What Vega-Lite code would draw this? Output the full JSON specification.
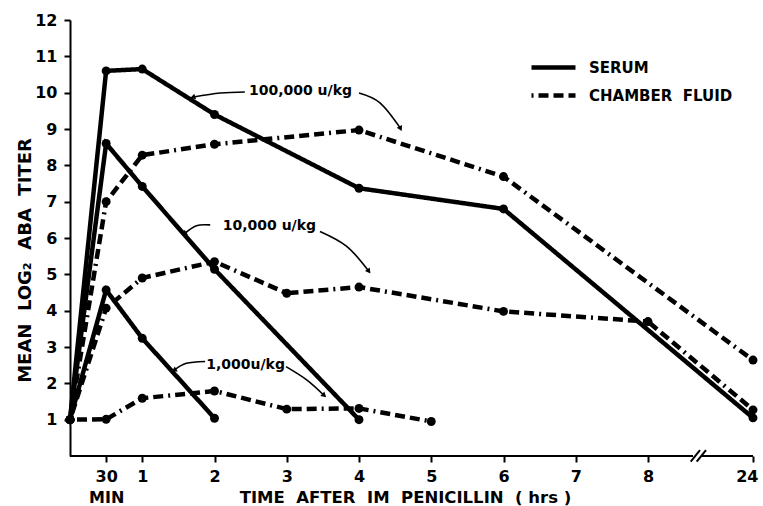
{
  "$schema": "https://vega.github.io/schema/vega-lite/v6.json",
  "width": 683,
  "height": 436,
  "autosize": {"type": "none"},
  "padding": {"left": 70, "top": 20, "right": 10, "bottom": 50},
  "background": "white",
  "config": {
    "view": {"stroke": null},
    "font": "DejaVu Sans",
    "text": {"font": "DejaVu Sans"},
    "axis": {"labelOverlap": false}
  },
  "datasets": {
    "titer": [
      {"dose": "100,000", "fluid": "SERUM", "t": 0, "v": 1},
      {"dose": "100,000", "fluid": "SERUM", "t": 0.5, "v": 10.6},
      {"dose": "100,000", "fluid": "SERUM", "t": 1, "v": 10.65},
      {"dose": "100,000", "fluid": "SERUM", "t": 2, "v": 9.4},
      {"dose": "100,000", "fluid": "SERUM", "t": 4, "v": 7.37},
      {"dose": "100,000", "fluid": "SERUM", "t": 6, "v": 6.8},
      {"dose": "100,000", "fluid": "SERUM", "t": 24, "v": 1.05},
      {"dose": "100,000", "fluid": "CHAMBER FLUID", "t": 0, "v": 1},
      {"dose": "100,000", "fluid": "CHAMBER FLUID", "t": 0.5, "v": 7.0},
      {"dose": "100,000", "fluid": "CHAMBER FLUID", "t": 1, "v": 8.28},
      {"dose": "100,000", "fluid": "CHAMBER FLUID", "t": 2, "v": 8.58},
      {"dose": "100,000", "fluid": "CHAMBER FLUID", "t": 4, "v": 8.97},
      {"dose": "100,000", "fluid": "CHAMBER FLUID", "t": 6, "v": 7.69},
      {"dose": "100,000", "fluid": "CHAMBER FLUID", "t": 24, "v": 2.64},
      {"dose": "10,000", "fluid": "SERUM", "t": 0, "v": 1},
      {"dose": "10,000", "fluid": "SERUM", "t": 0.5, "v": 8.6},
      {"dose": "10,000", "fluid": "SERUM", "t": 1, "v": 7.42},
      {"dose": "10,000", "fluid": "SERUM", "t": 2, "v": 5.14},
      {"dose": "10,000", "fluid": "SERUM", "t": 4, "v": 1.0},
      {"dose": "10,000", "fluid": "CHAMBER FLUID", "t": 0, "v": 1},
      {"dose": "10,000", "fluid": "CHAMBER FLUID", "t": 0.5, "v": 4.07},
      {"dose": "10,000", "fluid": "CHAMBER FLUID", "t": 1, "v": 4.9},
      {"dose": "10,000", "fluid": "CHAMBER FLUID", "t": 2, "v": 5.35},
      {"dose": "10,000", "fluid": "CHAMBER FLUID", "t": 3, "v": 4.48},
      {"dose": "10,000", "fluid": "CHAMBER FLUID", "t": 4, "v": 4.65},
      {"dose": "10,000", "fluid": "CHAMBER FLUID", "t": 6, "v": 3.98},
      {"dose": "10,000", "fluid": "CHAMBER FLUID", "t": 8, "v": 3.7},
      {"dose": "10,000", "fluid": "CHAMBER FLUID", "t": 24, "v": 1.27},
      {"dose": "1,000", "fluid": "SERUM", "t": 0, "v": 1},
      {"dose": "1,000", "fluid": "SERUM", "t": 0.5, "v": 4.57},
      {"dose": "1,000", "fluid": "SERUM", "t": 1, "v": 3.24},
      {"dose": "1,000", "fluid": "SERUM", "t": 2, "v": 1.04},
      {"dose": "1,000", "fluid": "CHAMBER FLUID", "t": 0, "v": 1},
      {"dose": "1,000", "fluid": "CHAMBER FLUID", "t": 0.5, "v": 1.01},
      {"dose": "1,000", "fluid": "CHAMBER FLUID", "t": 1, "v": 1.59},
      {"dose": "1,000", "fluid": "CHAMBER FLUID", "t": 2, "v": 1.79},
      {"dose": "1,000", "fluid": "CHAMBER FLUID", "t": 3, "v": 1.29},
      {"dose": "1,000", "fluid": "CHAMBER FLUID", "t": 4, "v": 1.31},
      {"dose": "1,000", "fluid": "CHAMBER FLUID", "t": 5, "v": 0.95}
    ],
    "baseline": [
      {"t": 0, "t2": 14.86},
      {"t": 16.18, "t2": 24}
    ],
    "slashes": [
      {"t": 14.51, "t2": 15.92, "v": -0.157, "v2": 0.165},
      {"t": 15.42, "t2": 16.84, "v": -0.157, "v2": 0.165}
    ],
    "labels": [
      {"t": 3.19, "v": 10.04, "text": "100,000 u/kg"},
      {"t": 2.76, "v": 6.32, "text": "10,000 u/kg"},
      {"t": 2.43, "v": 2.51, "text": "1,000u/kg"}
    ],
    "arrows": [
      {"a": "L100", "i": 0, "t": 2.42, "v": 10.02},
      {"a": "L100", "i": 1, "t": 2.08, "v": 9.99},
      {"a": "L100", "i": 2, "t": 1.71, "v": 9.88},
      {"a": "R100", "i": 0, "t": 4.0, "v": 9.99},
      {"a": "R100", "i": 1, "t": 4.29, "v": 9.72},
      {"a": "R100", "i": 2, "t": 4.57, "v": 9.03},
      {"a": "L10", "i": 0, "t": 1.94, "v": 6.36},
      {"a": "L10", "i": 1, "t": 1.75, "v": 6.34},
      {"a": "L10", "i": 2, "t": 1.59, "v": 6.13},
      {"a": "R10", "i": 0, "t": 3.46, "v": 6.18},
      {"a": "R10", "i": 1, "t": 3.83, "v": 5.77},
      {"a": "R10", "i": 2, "t": 4.13, "v": 5.1},
      {"a": "L1", "i": 0, "t": 1.87, "v": 2.6},
      {"a": "L1", "i": 1, "t": 1.61, "v": 2.55},
      {"a": "L1", "i": 2, "t": 1.45, "v": 2.37},
      {"a": "R1", "i": 0, "t": 2.99, "v": 2.46},
      {"a": "R1", "i": 1, "t": 3.28, "v": 2.09},
      {"a": "R1", "i": 2, "t": 3.51, "v": 1.68}
    ]
  },
  "layer": [
    {
      "data": {"name": "titer"},
      "mark": {"type": "line", "color": "black", "strokeWidth": 4.5, "strokeCap": "butt"},
      "encoding": {
        "x": {
          "field": "t", "type": "quantitative",
          "scale": {"domain": [0, 8, 24], "range": [0, 578, 683], "nice": false, "zero": false},
          "axis": {
            "values": [0.5, 1, 2, 3, 4, 5, 6, 7, 8, 24],
            "tickCount": 30,
            "format": "d",
            "labelExpr": "datum.value == 0.5 ? ['30', 'MIN'] : datum.label",
            "domain": false, "grid": false,
            "ticks": true, "tickSize": 6, "tickWidth": 2, "tickColor": "black",
            "labelFont": "DejaVu Sans", "labelFontSize": 16, "labelFontWeight": "bold", "labelColor": "black",
            "labelPadding": 6, "labelLineHeight": 21, "labelFlush": 5, "labelFlushOffset": 5, "labelOverlap": false,
            "title": "TIME\u00a0\u00a0AFTER\u00a0\u00a0IM\u00a0\u00a0PENICILLIN\u00a0\u00a0(\u00a0hrs\u00a0)",
            "titleFont": "DejaVu Sans", "titleFontSize": 16.5, "titleFontWeight": "bold", "titleColor": "black",
            "titleX": 335, "titleY": 46, "titleBaseline": "alphabetic", "titleAlign": "center"
          }
        },
        "y": {
          "field": "v", "type": "quantitative",
          "scale": {"domain": [0, 12], "nice": false, "zero": true},
          "axis": {
            "values": [1, 2, 3, 4, 5, 6, 7, 8, 9, 10, 11, 12],
            "tickCount": 30,
            "format": "d",
            "domain": true, "domainColor": "black", "domainWidth": 2, "grid": false,
            "ticks": true, "tickSize": 6, "tickWidth": 2, "tickColor": "black",
            "labelFont": "DejaVu Sans", "labelFontSize": 16, "labelFontWeight": "bold", "labelColor": "black",
            "labelPadding": 7, "labelOverlap": false, "labelFlush": false,
            "title": "MEAN\u00a0\u00a0LOG₂\u00a0\u00a0ABA\u00a0\u00a0TITER",
            "titleFont": "DejaVu Sans", "titleFontSize": 18, "titleFontWeight": "bold", "titleColor": "black",
            "titleX": -45, "titleY": 240, "titleAngle": -90, "titleAlign": "center", "titleBaseline": "middle"
          }
        },
        "detail": {"field": "dose", "type": "nominal"},
        "strokeDash": {
          "field": "fluid", "type": "nominal",
          "scale": {"domain": ["SERUM", "CHAMBER FLUID"], "range": [[1, 0], [2, 5, 10, 5, 10, 5, 10, 5]]},
          "legend": {
            "title": null, "orient": "none", "legendX": 470, "legendY": 34,
            "symbolType": "M-2,0H2", "symbolSize": 484, "symbolStrokeWidth": 4.5, "symbolStrokeColor": "black",
            "labelFont": "DejaVu Sans", "labelFontSize": 15, "labelFontWeight": "bold", "labelColor": "black",
            "labelOffset": 22, "rowPadding": 5,
            "labelExpr": "datum.label == 'CHAMBER FLUID' ? 'CHAMBER\u00a0\u00a0FLUID' : datum.label"
          }
        }
      }
    },
    {
      "data": {"name": "titer"},
      "mark": {"type": "point", "shape": "circle", "filled": true, "color": "black", "size": 80, "opacity": 1},
      "encoding": {
        "x": {"field": "t", "type": "quantitative"},
        "y": {"field": "v", "type": "quantitative"}
      }
    },
    {
      "data": {"name": "baseline"},
      "mark": {"type": "rule", "color": "black", "strokeWidth": 2},
      "encoding": {
        "x": {"field": "t", "type": "quantitative"},
        "x2": {"field": "t2"},
        "y": {"datum": 0}
      }
    },
    {
      "data": {"name": "slashes"},
      "mark": {"type": "rule", "color": "black", "strokeWidth": 2},
      "encoding": {
        "x": {"field": "t", "type": "quantitative"},
        "x2": {"field": "t2"},
        "y": {"field": "v", "type": "quantitative"},
        "y2": {"field": "v2"}
      }
    },
    {
      "data": {"name": "labels"},
      "mark": {"type": "text", "font": "DejaVu Sans", "fontSize": 14, "fontWeight": "bold", "color": "black", "align": "center", "baseline": "middle"},
      "encoding": {
        "x": {"field": "t", "type": "quantitative"},
        "y": {"field": "v", "type": "quantitative"},
        "text": {"field": "text"}
      }
    },
    {
      "data": {"name": "arrows"},
      "mark": {"type": "line", "color": "black", "strokeWidth": 1.6, "interpolate": "natural"},
      "encoding": {
        "x": {"field": "t", "type": "quantitative"},
        "y": {"field": "v", "type": "quantitative"},
        "detail": {"field": "a", "type": "nominal"},
        "order": {"field": "i", "type": "quantitative"}
      }
    },
    {
      "data": {"name": "arrows"},
      "transform": [{"filter": "datum.a == 'L100' && datum.i == 2"}],
      "mark": {"type": "point", "shape": "triangle", "filled": true, "color": "black", "size": 35, "opacity": 1, "angle": 252},
      "encoding": {"x": {"field": "t", "type": "quantitative"}, "y": {"field": "v", "type": "quantitative"}}
    },
    {
      "data": {"name": "arrows"},
      "transform": [{"filter": "datum.a == 'R100' && datum.i == 2"}],
      "mark": {"type": "point", "shape": "triangle", "filled": true, "color": "black", "size": 35, "opacity": 1, "angle": 153},
      "encoding": {"x": {"field": "t", "type": "quantitative"}, "y": {"field": "v", "type": "quantitative"}}
    },
    {
      "data": {"name": "arrows"},
      "transform": [{"filter": "datum.a == 'L10' && datum.i == 2"}],
      "mark": {"type": "point", "shape": "triangle", "filled": true, "color": "black", "size": 35, "opacity": 1, "angle": 238},
      "encoding": {"x": {"field": "t", "type": "quantitative"}, "y": {"field": "v", "type": "quantitative"}}
    },
    {
      "data": {"name": "arrows"},
      "transform": [{"filter": "datum.a == 'R10' && datum.i == 2"}],
      "mark": {"type": "point", "shape": "triangle", "filled": true, "color": "black", "size": 35, "opacity": 1, "angle": 143},
      "encoding": {"x": {"field": "t", "type": "quantitative"}, "y": {"field": "v", "type": "quantitative"}}
    },
    {
      "data": {"name": "arrows"},
      "transform": [{"filter": "datum.a == 'L1' && datum.i == 2"}],
      "mark": {"type": "point", "shape": "triangle", "filled": true, "color": "black", "size": 35, "opacity": 1, "angle": 240},
      "encoding": {"x": {"field": "t", "type": "quantitative"}, "y": {"field": "v", "type": "quantitative"}}
    },
    {
      "data": {"name": "arrows"},
      "transform": [{"filter": "datum.a == 'R1' && datum.i == 2"}],
      "mark": {"type": "point", "shape": "triangle", "filled": true, "color": "black", "size": 35, "opacity": 1, "angle": 132},
      "encoding": {"x": {"field": "t", "type": "quantitative"}, "y": {"field": "v", "type": "quantitative"}}
    }
  ]
}
